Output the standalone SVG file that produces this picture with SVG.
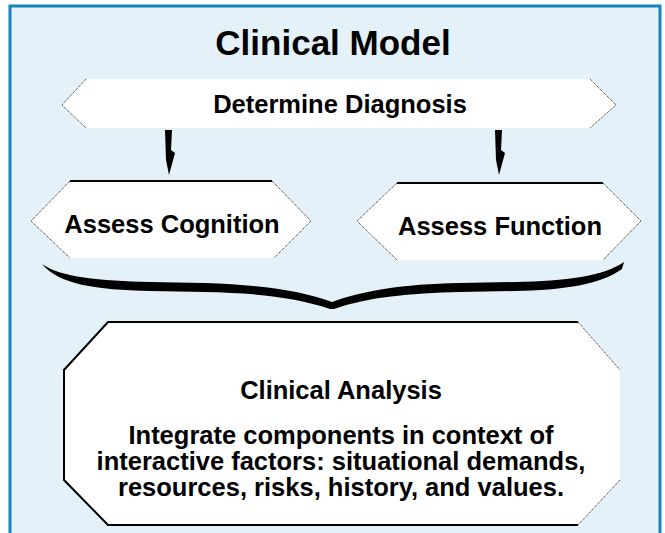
<svg xmlns="http://www.w3.org/2000/svg" width="665" height="533" viewBox="0 0 665 533">
<defs>
<linearGradient id="edge" x1="0" y1="0" x2="1" y2="0">
<stop offset="0" stop-color="#d0d0d0"/>
<stop offset="0.45" stop-color="#000"/>
<stop offset="1" stop-color="#000"/>
</linearGradient>
<linearGradient id="vfade" x1="0" y1="0" x2="0" y2="1">
<stop offset="0" stop-color="#000"/>
<stop offset="0.6" stop-color="#000"/>
<stop offset="1" stop-color="#ddd"/>
</linearGradient>
</defs>
<style>
.frame{fill:#e4f1f8;stroke:#1581bd;stroke-width:3}
.box{fill:#fff;stroke:none}
.solid{fill:none;stroke:#000;stroke-width:2}
.grad{fill:none;stroke:url(#edge);stroke-width:2}
.dot{fill:none;stroke:#222;stroke-width:1;stroke-dasharray:1 1}
.t{font-family:"Liberation Sans",Arial,sans-serif;font-weight:bold;fill:#000;text-anchor:middle;font-size:25.5px}
.bolt{fill:#000}
</style>
<rect class="frame" x="10" y="6" width="650" height="545"/>
<text class="t" x="333" y="55" style="font-size:35px">Clinical Model</text>

<g id="determine">
<polygon class="box" points="62,105 86,79 590,79 616,105 590,128 86,128"/>
<line class="grad" x1="86" y1="79" x2="590" y2="79"/>
<line class="grad" x1="86" y1="128" x2="590" y2="128"/>
<polyline class="dot" points="86,79 62,105 86,128"/>
<polyline class="dot" points="590,79 616,105 590,128"/>
<text class="t" x="340" y="113">Determine Diagnosis</text>
</g>

<g id="connectors">
<polygon class="bolt" points="165,130 172,130 171,150 175,153 169,175 166,160"/>
<polygon class="bolt" points="495,130 502,130 501,150 505,153 499,175 496,160"/>
<path class="bolt" d="M42,264 C60,277 100,281 150,282 L205,283 C262,285 302,291 332,302 C362,291 402,284 460,283 L515,282 C566,281 604,276 624,262 L622,269 C600,285 562,290 515,291 L460,292 C410,293 368,297 334,309 L330,309 C296,297 254,293 205,292 L150,291 C96,290 58,284 42,264 Z"/>
</g>

<g id="cognition">
<polygon class="box" points="31,221 70,181 272,181 311,221 274,258 70,258"/>
<line class="solid" x1="70" y1="181" x2="272" y2="181"/>
<line class="grad" x1="70" y1="258" x2="274" y2="258"/>
<polyline class="dot" points="70,181 31,221 70,258"/>
<polyline class="dot" points="272,181 311,221 274,258"/>
<text class="t" x="172" y="233">Assess Cognition</text>
</g>

<g id="function">
<polygon class="box" points="357,221 397,183 603,183 641,221 603,260 397,260"/>
<line class="solid" x1="397" y1="183" x2="603" y2="183"/>
<line class="grad" x1="397" y1="260" x2="603" y2="260"/>
<polyline class="dot" points="397,183 357,221 397,260"/>
<polyline class="dot" points="603,183 641,221 603,260"/>
<text class="t" x="500" y="235">Assess Function</text>
</g>

<g id="analysis">
<polygon class="box" points="108,322 578,322 620,370 620,480 578,525 108,525 64,480 64,370"/>
<polyline class="solid" points="578,322 108,322 64,370 64,480 108,525 578,525"/>
<line x1="620" y1="370" x2="620" y2="480" stroke="url(#vfade)" stroke-width="2"/>
<polyline class="dot" points="578,322 620,370"/>
<polyline class="dot" points="620,480 578,525"/>
<text class="t" x="341" y="399">Clinical Analysis</text>
<text class="t" x="341" y="444">Integrate components in context of</text>
<text class="t" x="341" y="470">interactive factors: situational demands,</text>
<text class="t" x="341" y="496">resources, risks, history, and values.</text>
</g>
</svg>
